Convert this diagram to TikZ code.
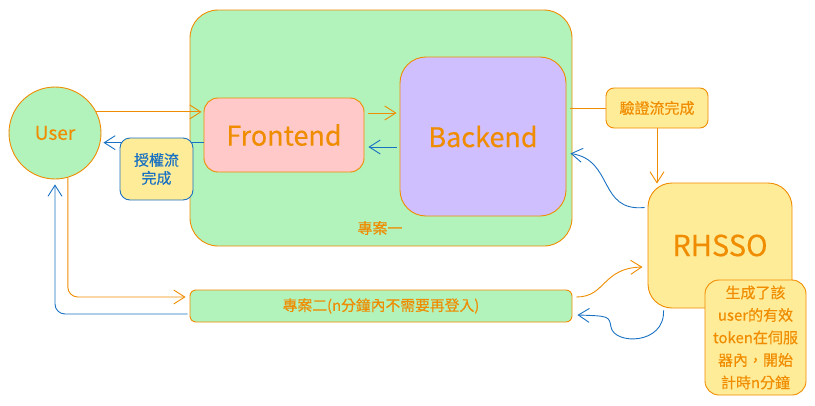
\documentclass[tikz,border=0pt]{standalone}
\usepackage{fontspec}
\setmainfont{Noto Sans CJK TC}[FakeBold=0.3]
\usetikzlibrary{positioning,arrows.meta}

\definecolor{exgreen}{HTML}{B2F2BB}
\definecolor{exorange}{HTML}{F08C00}
\definecolor{exblue}{HTML}{1971C2}
\definecolor{exyellow}{HTML}{FFEC99}
\definecolor{expink}{HTML}{FFC9C9}
\definecolor{expurple}{HTML}{D0BFFF}

\begin{document}
\begin{tikzpicture}[x=1pt,y=-1pt,%
  % common options for boxes:
  box/.style = {draw=exorange, line width=0.9pt, text=exorange, align=center,
              rounded corners=14pt, inner sep=0},
  % common options for the notes:
  note/.style = {box, fill=exyellow, font=\fontsize{15}{18}\selectfont},
  % common options for the arrows:
  orangearrow/.style = {-{Straight Barb[length=11pt,width=14pt]}, draw=exorange, line width=0.9pt},
  bluearrow/.style = {-{Straight Barb[length=11pt,width=14pt]}, draw=exblue, line width=0.9pt}
	]
  \useasboundingbox (0,0) rectangle (815,405);

  \node[box, fill=exgreen, minimum width=382pt, minimum height=236pt, rounded corners=28pt] (proj1) at (381,128) {};
  \node[text=exorange, font=\fontsize{15}{17}\selectfont] (proj1label) at (380,228) {專案一};
  \node[box, fill=exgreen, minimum width=382pt, minimum height=32pt, rounded corners=6pt,
        font=\fontsize{14.8}{17}\selectfont] (proj2) at (381,306) {專案二(n分鐘內不需要再登入)};

  \node[box, circle, fill=exgreen, minimum size=92pt, font=\fontsize{19}{21}\selectfont] (user) at (55,133) {User};
  \node[box, fill=expink, minimum width=160pt, minimum height=74pt, font=\fontsize{27}{30}\selectfont] (front) at (284,135) {Frontend};
  \node[box, fill=expurple, minimum width=166pt, minimum height=159pt, rounded corners=26pt, font=\fontsize{27}{30}\selectfont] (back) at (483,136.5) {Backend};
  \node[box, fill=exyellow, minimum width=144pt, minimum height=125pt, rounded corners=24pt, font=\fontsize{29}{32}\selectfont] (rhsso) at (720,245.5) {RHSSO};

  \draw[orangearrow] (user.27) -- ([xshift=-2pt]front.west |- user.27);
  \draw[bluearrow] (front.west |- user.-12) -- ([xshift=3pt]user.-12);
  \draw[orangearrow] ([xshift=4pt,yshift=22pt]front.east) -- ([xshift=-3pt,yshift=23.5pt]back.west);
  \draw[bluearrow] ([xshift=-3pt,yshift=-10.5pt]back.west) -- ([xshift=4pt,yshift=-12pt]front.east);

  \node[note, draw=exblue, text=exblue, minimum width=73pt, minimum height=62pt, rounded corners=10pt] (authnote) at (156.5,169) {授權流\\完成};
  \node[note, minimum width=102pt, minimum height=40pt, rounded corners=8pt] (verifnote) at (657,108) {驗證流完成};

  \draw[draw=exorange, line width=0.9pt] ([xshift=4pt]back.east |- verifnote.west) -- (verifnote.west);
  \draw[orangearrow] (verifnote.south) -- ([yshift=-1pt]verifnote.south |- rhsso.north);
  \draw[bluearrow] ([xshift=-3pt,yshift=38pt]rhsso.west) .. controls (598,212) and (614,160) .. ([xshift=4pt,yshift=-17pt]back.east);

  \draw[orangearrow, rounded corners=10pt] (user.-74) |- ([xshift=-4pt,yshift=9pt]proj2.west);
  \draw[bluearrow, rounded corners=10pt] ([xshift=-2pt,yshift=-8pt]proj2.west) -| ([yshift=-5pt]user.south);
  \draw[orangearrow] ([xshift=4pt,yshift=9pt]proj2.east) .. controls (606,297) and (602,268) .. ([xshift=-5pt,yshift=-21.5pt]rhsso.west);
  \draw[bluearrow] ([xshift=16pt,yshift=-2pt]rhsso.south west) .. controls (665,345) and (614,345) .. (611,327)
    .. controls (609,316) .. ([xshift=5pt,yshift=-9pt]proj2.east);

  \node[note, minimum width=101pt, minimum height=115pt, rounded corners=14pt,
        font=\fontsize{15}{22.5}\selectfont] (tokennote) at (755.5,337.5) {生成了該\\user的有效\\token在伺服\\器內，開始\\計時n分鐘};
\end{tikzpicture}
\end{document}
